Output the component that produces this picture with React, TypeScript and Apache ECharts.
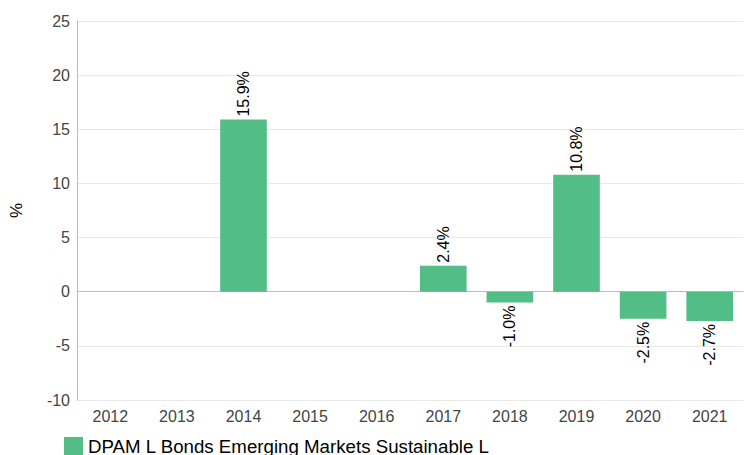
import React, { useEffect, useRef } from "react";
import * as echarts from "echarts";

const categories = ["2012", "2013", "2014", "2015", "2016", "2017", "2018", "2019", "2020", "2021"];
const values: (number | null)[] = [null, null, 15.9, null, null, 2.4, -1.0, 10.8, -2.5, -2.7];
const seriesName = "DPAM L Bonds Emerging Markets Sustainable L";

export default function App() {
  const ref = useRef<HTMLDivElement>(null);
  useEffect(() => {
    const chart = echarts.init(ref.current!, null, { renderer: "svg" });
    const font = "'Liberation Sans', Arial, sans-serif";
    chart.setOption({
      animation: false,
      textStyle: { fontFamily: font },
      grid: { left: 67, right: 1, top: 21, bottom: 55, containLabel: false },
      legend: {
        left: 59,
        top: 432,
        itemWidth: 19,
        itemHeight: 19,
        itemGap: 8,
        icon: "rect",
        textStyle: { fontSize: 18.7, color: "#000", fontFamily: font },
        data: [seriesName],
      },
      xAxis: {
        type: "category",
        data: categories,
        axisLine: { lineStyle: { color: "#bbb" } },
        axisTick: { show: false },
        axisLabel: { fontSize: 16, color: "#444", margin: 8, fontFamily: font },
      },
      yAxis: {
        type: "value",
        min: -10,
        max: 25,
        interval: 5,
        name: "%",
        nameLocation: "middle",
        nameGap: 52,
        nameRotate: 90,
        nameTextStyle: { fontSize: 17, color: "#000", fontFamily: font },
        axisLine: { show: true, lineStyle: { color: "#bbb" } },
        axisTick: { show: false },
        axisLabel: { fontSize: 16, color: "#444", margin: 7, fontFamily: font },
        splitLine: { lineStyle: { color: "#e8e8e8" } },
      },
      series: [
        {
          name: seriesName,
          type: "bar",
          barWidth: "70%",
          itemStyle: { color: "#52bd84" },
          data: values.map((v) =>
            v === null
              ? null
              : {
                  value: v,
                  label: {
                    show: true,
                    position: v >= 0 ? "top" : "bottom",
                    rotate: 90,
                    align: v >= 0 ? "left" : "right",
                    verticalAlign: "middle",
                    distance: 3,
                    fontSize: 16,
                    color: "#000",
                    fontFamily: font,
                    formatter: (p: any) => p.value.toFixed(1) + "%",
                  },
                }
          ),
        },
      ],
    });
    return () => chart.dispose();
  }, []);
  return <div ref={ref} style={{ width: 744, height: 455, position: "absolute", left: 0, top: 0 }} />;
}
